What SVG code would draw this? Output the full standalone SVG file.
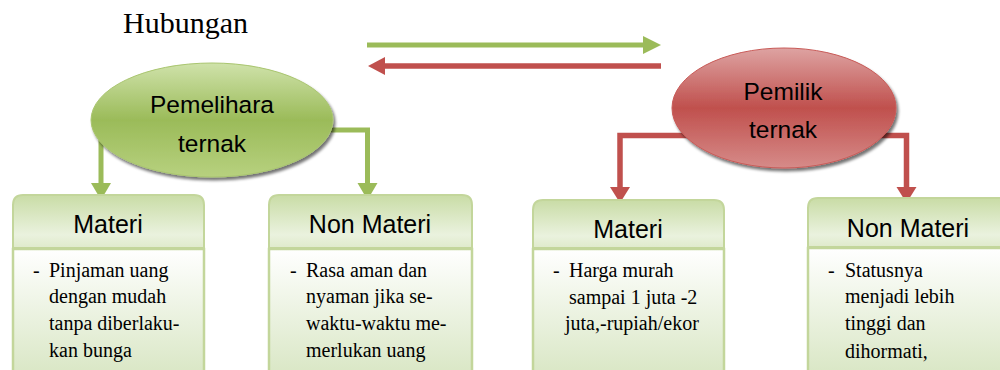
<svg xmlns="http://www.w3.org/2000/svg" width="1000" height="370" viewBox="0 0 1000 370">
<defs>
<linearGradient id="gEll" x1="0" y1="0" x2="0" y2="1">
<stop offset="0" stop-color="#cfe2aa"/><stop offset="0.5" stop-color="#9bbb59"/><stop offset="1" stop-color="#b7d17f"/>
</linearGradient>
<linearGradient id="rEll" x1="0" y1="0" x2="0" y2="1">
<stop offset="0" stop-color="#dea3a2"/><stop offset="0.5" stop-color="#c0504d"/><stop offset="1" stop-color="#d68b89"/>
</linearGradient>
<linearGradient id="hdr" x1="0" y1="0" x2="0" y2="1">
<stop offset="0" stop-color="#c9dca6"/><stop offset="0.75" stop-color="#eaf2de"/><stop offset="1" stop-color="#dfeacb"/>
</linearGradient>
<linearGradient id="body" x1="0" y1="0" x2="0" y2="1">
<stop offset="0" stop-color="#ffffff"/><stop offset="1" stop-color="#d8e6c3"/>
</linearGradient>
<filter id="sh" x="-10%" y="-10%" width="130%" height="140%">
<feGaussianBlur in="SourceAlpha" stdDeviation="1.5"/>
<feOffset dx="2" dy="3" result="b"/>
<feComponentTransfer><feFuncA type="linear" slope="0.55"/></feComponentTransfer>
<feMerge><feMergeNode/><feMergeNode in="SourceGraphic"/></feMerge>
</filter>
<style>
.title{font-family:"Liberation Serif","Times New Roman",serif;font-size:30px;fill:#000}
.ell{font-family:"Liberation Sans",Arial,sans-serif;font-size:24.5px;fill:#000;text-anchor:middle}
.hd{font-family:"Liberation Sans",Arial,sans-serif;font-size:25px;fill:#000;text-anchor:middle}
.bt{font-family:"Liberation Serif","Times New Roman",serif;font-size:20px;fill:#000}
.hbox{fill:url(#hdr);stroke:#c3d69b;stroke-width:2}
.bbox{fill:url(#body);stroke:#c3d69b;stroke-width:2.5}
.cg{fill:none;stroke:#9bbb59;stroke-width:5}
.cr{fill:none;stroke:#c0504d;stroke-width:5.5}
.hg{fill:#9bbb59}
.hr{fill:#c0504d}
</style>
</defs>
<rect width="1000" height="370" fill="#fff"/>
<text class="title" x="123" y="33">Hubungan</text>

<g id="connectors">
<path class="cg" d="M367,45 H645"/>
<polygon class="hg" points="643,36 661,45 643,54"/>
<path class="cr" d="M661,66 H383"/>
<polygon class="hr" points="385,57 368,66 385,75"/>
<path class="cg" d="M101,140 V185"/>
<polygon class="hg" points="91,183 101,200 111,183"/>
<path class="cg" d="M330,130 H367.5 V185"/>
<polygon class="hg" points="357.5,183 367.5,200 377.5,183"/>
<path class="cr" d="M690,135.5 H620 V189"/>
<polygon class="hr" points="610,187 620,203 630,187"/>
<path class="cr" d="M880,135.5 H906.5 V189"/>
<polygon class="hr" points="896.5,187 906.5,203 916.5,187"/>
</g>

<g id="pemelihara">
<ellipse cx="212" cy="120" rx="121" ry="57" fill="url(#gEll)" stroke="#a9c56f" stroke-width="1" filter="url(#sh)"/>
<text class="ell" x="212" y="113">Pemelihara</text>
<text class="ell" x="212" y="152">ternak</text>
</g>

<g id="pemilik">
<ellipse cx="784" cy="108" rx="112" ry="60" fill="url(#rEll)" stroke="#c85a57" stroke-width="1" filter="url(#sh)"/>
<text class="ell" x="783" y="100">Pemilik</text>
<text class="ell" x="783" y="138">ternak</text>
</g>

<g id="materi1">
<rect class="bbox" x="13" y="249" width="191" height="130"/>
<path class="hbox" d="M13,248 V205 Q13,195 23,195 H194 Q204,195 204,205 V248 Z"/>
<text class="hd" x="108" y="233">Materi</text>
<text class="bt" x="33" y="277">-</text>
<text class="bt" x="49" y="277">Pinjaman uang</text>
<text class="bt" x="49" y="303">dengan mudah</text>
<text class="bt" x="49" y="330">tanpa diberlaku-</text>
<text class="bt" x="49" y="357">kan bunga</text>
</g>

<g id="nonmateri1">
<rect class="bbox" x="269" y="249" width="203" height="130"/>
<path class="hbox" d="M269,248 V205 Q269,195 279,195 H462 Q472,195 472,205 V248 Z"/>
<text class="hd" x="370" y="233">Non Materi</text>
<text class="bt" x="290" y="277">-</text>
<text class="bt" x="306" y="277">Rasa aman dan</text>
<text class="bt" x="306" y="303">nyaman jika se-</text>
<text class="bt" x="306" y="330">waktu-waktu me-</text>
<text class="bt" x="306" y="357">merlukan uang</text>
</g>

<g id="materi2">
<rect class="bbox" x="533" y="249" width="191" height="130"/>
<path class="hbox" d="M533,248 V210 Q533,200 543,200 H714 Q724,200 724,210 V248 Z"/>
<text class="hd" x="628" y="238">Materi</text>
<text class="bt" x="553" y="277">-</text>
<text class="bt" x="569" y="277">Harga murah</text>
<text class="bt" x="569" y="304">sampai 1 juta -2</text>
<text class="bt" x="565" y="330">juta,-rupiah/ekor</text>
</g>

<g id="nonmateri2">
<rect class="bbox" x="808" y="248" width="200" height="130"/>
<path class="hbox" d="M808,247 V208 Q808,198 818,198 H1010 V247 Z"/>
<text class="hd" x="908" y="237">Non Materi</text>
<text class="bt" x="828" y="277">-</text>
<text class="bt" x="845" y="277">Statusnya</text>
<text class="bt" x="845" y="303">menjadi lebih</text>
<text class="bt" x="845" y="330">tinggi dan</text>
<text class="bt" x="845" y="358">dihormati,</text>
</g>
</svg>
